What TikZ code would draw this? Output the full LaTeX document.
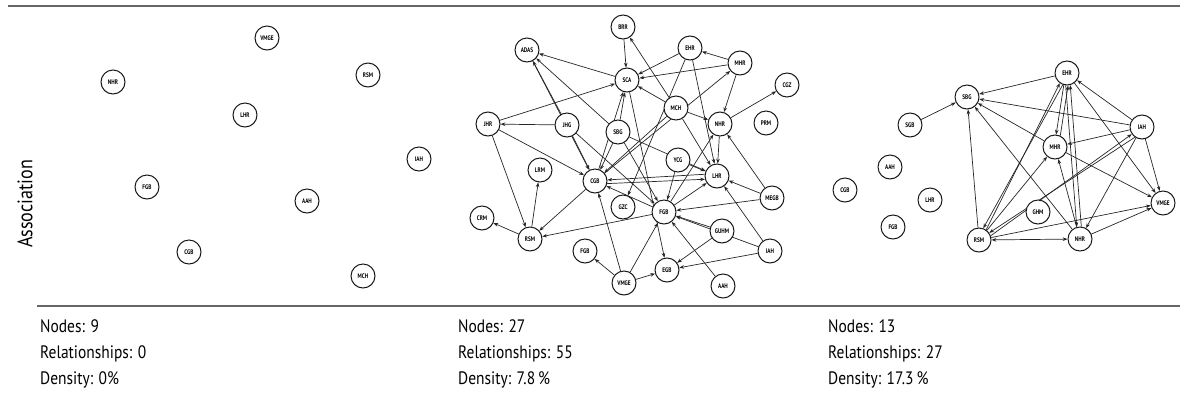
\documentclass[tikz,border=0pt]{standalone}
\usepackage{fontspec}
\setmainfont{PT Sans}
\newfontfamily\lblfont{PT Sans}[FakeStretch=0.8]
\newfontfamily\statfont{PT Sans}[FakeStretch=0.86]
\usetikzlibrary{arrows.meta,backgrounds}
\begin{document}
\begin{tikzpicture}[x=1pt,y=-1pt,
  nd/.style={circle,draw=black!90,line width=1pt,fill=white,minimum size=24pt,inner sep=0pt,font=\lblfont\bfseries\fontsize{6.6}{7}\selectfont},
  ed/.style={draw=black!85,line width=0.7pt,-{Stealth[length=4.8pt,width=3.6pt]}},
  bd/.style={draw=black!85,line width=0.7pt,{Stealth[length=4.8pt,width=3.6pt]}-{Stealth[length=4.8pt,width=3.6pt]}},
  rule/.style={draw=black!60,line width=1.6pt},
  stat/.style={anchor=base west,font=\statfont\fontsize{18}{20}\selectfont,inner sep=0pt}]
\useasboundingbox (0,0) rectangle (1180,400);
% rules
\coordinate (tl) at (8,6); \coordinate (tr) at (1180,6);
\draw[rule] (tl) -- (tr);
\coordinate (bl) at (37,306); \coordinate (br) at (1180,306);
\draw[rule] (bl) -- (br);
\node[rotate=90,font=\statfont\fontsize{21}{24}\selectfont,inner sep=0pt] (assoc) at (25,204) {Association};
% stats
\node[stat] (s1a) at (40,332) {Nodes: 9};
\node[stat] (s1b) at (40,358) {Relationships: 0};
\node[stat] (s1c) at (40,384) {Density: 0\%};
\node[stat] (s2a) at (458,332) {Nodes: 27};
\node[stat] (s2b) at (458,358) {Relationships: 55};
\node[stat] (s2c) at (458,384) {Density: 7.8\,\%};
\node[stat] (s3a) at (828,332) {Nodes: 13};
\node[stat] (s3b) at (828,358) {Relationships: 27};
\node[stat] (s3c) at (828,384) {Density: 17.3\,\%};
% left panel
\node[nd] (aVMGE) at (267,38) {VMGE};
\node[nd] (aNHR) at (113,82) {NHR};
\node[nd] (aRSM) at (368,75) {RSM};
\node[nd] (aLHR) at (245,115) {LHR};
\node[nd] (aIAH) at (419,159) {IAH};
\node[nd] (aFGB) at (147,187) {FGB};
\node[nd] (aAAH) at (307,201) {AAH};
\node[nd] (aCGB) at (189,252) {CGB};
\node[nd] (aMCH) at (363,276) {MCH};
% middle panel
\node[nd] (bADAS) at (527,50) {ADAS};
\node[nd] (bBRR) at (623,27) {BRR};
\node[nd] (bSCA) at (627,80) {SCA};
\node[nd] (bEHR) at (690,48) {EHR};
\node[nd] (bMHR) at (740,63) {MHR};
\node[nd] (bCGZ) at (787,85) {CGZ};
\node[nd] (bJHR) at (488,124) {JHR};
\node[nd] (bJHG) at (567,125) {JHG};
\node[nd] (bSBG) at (618,132) {SBG};
\node[nd] (bMCH) at (676,108) {MCH};
\node[nd] (bNHR) at (720,124) {NHR};
\node[nd] (bPRM) at (766,123) {PRM};
\node[nd] (bLRM) at (540,170) {LRM};
\node[nd] (bCGB) at (595,181) {CGB};
\node[nd] (bYCG) at (678,160) {YCG};
\node[nd] (bLHR) at (717,176) {LHR};
\node[nd] (bGZC) at (623,207) {GZC};
\node[nd] (bFGB) at (664,212) {FGB};
\node[nd] (bMEGB) at (772,198) {MEGB};
\node[nd] (bCRM) at (482,218) {CRM};
\node[nd] (bRSM) at (530,239) {RSM};
\node[nd] (bGUHM) at (722,231) {GUHM};
\node[nd] (bFGBb) at (585,251) {FGB};
\node[nd] (bIAH) at (770,251) {IAH};
\node[nd] (bVMGE) at (624,283) {VMGE};
\node[nd] (bEGB) at (667,270) {EGB};
\node[nd] (bAAH) at (723,286) {AAH};
% right panel
\node[nd] (cEHR) at (1067,73) {EHR};
\node[nd] (cSBG) at (967,97) {SBG};
\node[nd] (cSGB) at (910,125) {SGB};
\node[nd] (cIAH) at (1142,127) {IAH};
\node[nd] (cMHR) at (1055,147) {MHR};
\node[nd] (cAAH) at (890,167) {AAH};
\node[nd] (cCGB) at (845,190) {CGB};
\node[nd] (cLHR) at (930,200) {LHR};
\node[nd] (cVMGE) at (1163,203) {VMGE};
\node[nd] (cGHM) at (1038,212) {GHM};
\node[nd] (cFGB) at (893,227) {FGB};
\node[nd] (cRSM) at (979,240) {RSM};
\node[nd] (cNHR) at (1080,239) {NHR};
\begin{scope}[on background layer]
% middle edges
\draw[ed] (bBRR) -- (bSCA);
\draw[ed] (bSCA) -- (bADAS);
\draw[ed] (bJHR) -- (bSCA);
\draw[ed] (bJHG) -- (bJHR);
\draw[ed] (bJHG) -- (bADAS);
\draw[ed] (bADAS) -- (bCGB);
\draw[ed] (bJHG) -- (bCGB);
\draw[ed] (bSBG) -- (bADAS);
\draw[ed] (bSBG) -- (bSCA);
\draw[ed] (bEHR) -- (bSCA);
\draw[ed] (bMHR) -- (bSCA);
\draw[ed] (bMHR) -- (bEHR);
\draw[ed] (bMCH) -- (bSCA);
\draw[ed] (bMCH) -- (bBRR);
\draw[ed] (bMCH) -- (bLHR);
\draw[ed] (bMHR) -- (bNHR);
\draw[ed] (bNHR) -- (bCGZ);
\draw[ed] (bMCH) -- (bNHR);
\draw[ed] (bCGB) -- (bMHR);
\draw[ed] (bEHR) -- (bLHR);
\draw[ed] (bEHR) -- (bGZC);
\draw[ed] (bJHR) -- (bCGB);
\draw[ed] (bJHR) -- (bRSM);
\draw[ed] (bJHG) -- (bFGB);
\draw[ed] (bSBG) -- (bCGB);
\draw[ed] (bSBG) -- (bFGB);
\draw[ed] (bLHR.172) -- (bCGB.5);
\draw[ed] (bFGB) -- (bCGB);
\draw[ed] (bFGB) -- (bRSM);
\draw[ed] (bFGB) -- (bLHR);
\draw[ed] (bYCG) -- (bLHR);
\draw[ed] (bYCG) -- (bFGB);
\draw[ed] (bMEGB) -- (bNHR);
\draw[ed] (bMEGB) -- (bLHR);
\draw[ed] (bMEGB) -- (bFGB);
\draw[ed] (bGUHM) -- (bFGB);
\draw[ed] (bIAH) -- (bFGB);
\draw[ed] (bGUHM) -- (bEGB);
\draw[ed] (bIAH) -- (bEGB);
\draw[ed] (bIAH) -- (bLHR);
\draw[ed] (bAAH) -- (bFGB);
\draw[ed] (bVMGE) -- (bFGB);
\draw[ed] (bVMGE) -- (bEGB);
\draw[ed] (bVMGE) -- (bFGBb);
\draw[ed] (bVMGE) -- (bCGB);
\draw[ed] (bSCA) -- (bEGB);
\draw[ed] (bCGB) -- (bRSM);
\draw[ed] (bRSM) -- (bLRM);
\draw[ed] (bRSM) -- (bCRM);
\draw[ed] (bMCH) -- (bCGB);
\draw[ed] (bNHR) -- (bLHR);
\draw[ed] (bCGB.-12) -- (bLHR.195);
\draw[ed] (bFGB) -- (bNHR);
\draw[ed] (bSBG) -- (bLHR);
\draw[ed] (bCGB) -- (bSCA);
% right edges
\draw[ed] (cSGB) -- (cSBG);
\draw[ed] (cEHR) -- (cSBG);
\draw[ed] (cIAH) -- (cSBG);
\draw[ed] (cMHR) -- (cSBG);
\draw[ed] (cNHR) -- (cSBG);
\draw[ed] (cRSM) -- (cSBG);
\draw[ed] (cRSM.55) -- (cEHR.235);
\draw[ed] (cEHR.250) -- (cRSM.70);
\draw[ed] (cRSM) -- (cMHR);
\draw[ed] (cRSM.20) -- (cIAH.215);
\draw[ed] (cIAH.235) -- (cRSM.35);
\draw[bd] (cRSM) -- (cNHR);
\draw[ed] (cRSM) -- (cVMGE);
\draw[ed] (cEHR.255) -- (cMHR.85);
\draw[ed] (cMHR.65) -- (cEHR.275);
\draw[ed] (cNHR.84) -- (cEHR.285);
\draw[ed] (cEHR.264) -- (cNHR.105);
\draw[ed] (cEHR) -- (cVMGE);
\draw[ed] (cIAH) -- (cEHR);
\draw[ed] (cIAH) -- (cMHR);
\draw[ed] (cIAH) -- (cVMGE);
\draw[ed] (cIAH) -- (cNHR);
\draw[ed] (cMHR) -- (cVMGE);
\draw[ed] (cNHR) -- (cMHR);
\draw[ed] (cNHR) -- (cVMGE);
\end{scope}
\end{tikzpicture}
\end{document}
